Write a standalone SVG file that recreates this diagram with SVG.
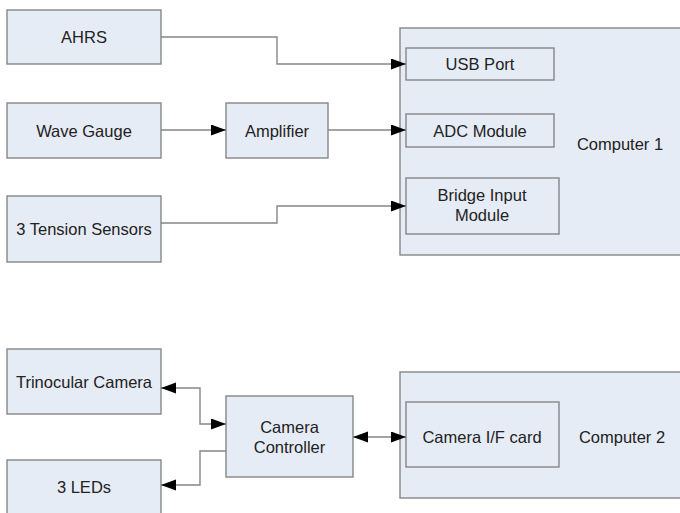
<svg xmlns="http://www.w3.org/2000/svg" width="680" height="513" viewBox="0 0 680 513">
  <style>
    .box { fill: #e6ecf6; stroke: #868686; stroke-width: 1.4; }
    .inner { fill: #e6ecf6; stroke: #868686; stroke-width: 1.4; }
    .lbl { font-family: "Liberation Sans", Arial, sans-serif; font-size: 16.5px; fill: #222; text-anchor: middle; }
    .wire { fill: none; stroke: #868686; stroke-width: 1.4; }
  </style>
  <defs>
    <marker id="head" markerUnits="userSpaceOnUse" markerWidth="16" markerHeight="12" refX="15" refY="5.5" orient="auto-start-reverse">
      <path d="M0,0 L15,5.5 L0,11 z" fill="#000"/>
    </marker>
  </defs>

  <rect width="680" height="513" fill="#fff"/>

  <!-- Computer 1 with its input modules -->
  <g id="computer1">
    <rect class="box" x="400" y="28" width="285" height="227"/>
    <text class="lbl" x="620" y="150">Computer 1</text>
  </g>
  <g id="usb-port">
    <rect class="inner" x="406" y="48" width="148" height="32"/>
    <text class="lbl" x="480" y="70">USB Port</text>
  </g>
  <g id="adc-module">
    <rect class="inner" x="406" y="114" width="148" height="33"/>
    <text class="lbl" x="480" y="136.5">ADC Module</text>
  </g>
  <g id="bridge-input">
    <rect class="inner" x="406" y="178" width="153" height="56"/>
    <text class="lbl" x="482" y="201">Bridge Input</text>
    <text class="lbl" x="482" y="221">Module</text>
  </g>

  <!-- Sensors -->
  <g id="ahrs">
    <rect class="box" x="7" y="10" width="154" height="54"/>
    <text class="lbl" x="84" y="43">AHRS</text>
  </g>
  <g id="wave-gauge">
    <rect class="box" x="7" y="103" width="154" height="55"/>
    <text class="lbl" x="84" y="136.5">Wave Gauge</text>
  </g>
  <g id="amplifier">
    <rect class="box" x="226" y="103" width="102" height="55"/>
    <text class="lbl" x="277" y="136.5">Amplifier</text>
  </g>
  <g id="tension-sensors">
    <rect class="box" x="7" y="196" width="154" height="66"/>
    <text class="lbl" x="84" y="234.5">3 Tension Sensors</text>
  </g>

  <!-- Camera system -->
  <g id="trinocular-camera">
    <rect class="box" x="7" y="349" width="154" height="65"/>
    <text class="lbl" x="84" y="387.5">Trinocular Camera</text>
  </g>
  <g id="leds">
    <rect class="box" x="7" y="460" width="154" height="60"/>
    <text class="lbl" x="84" y="492.5">3 LEDs</text>
  </g>
  <g id="camera-controller">
    <rect class="box" x="226" y="396" width="127" height="81"/>
    <text class="lbl" x="289.5" y="432.5">Camera</text>
    <text class="lbl" x="289.5" y="452.5">Controller</text>
  </g>
  <g id="computer2">
    <rect class="box" x="400" y="372" width="285" height="126"/>
    <text class="lbl" x="622" y="443">Computer 2</text>
  </g>
  <g id="camera-if-card">
    <rect class="inner" x="406" y="402" width="153" height="65"/>
    <text class="lbl" x="482" y="443">Camera I/F card</text>
  </g>

  <!-- Connectors -->
  <g id="connectors">
    <polyline class="wire" points="161,37 277,37 277,64 406,64" marker-end="url(#head)"/>
    <line class="wire" x1="161" y1="130" x2="226" y2="130" marker-end="url(#head)"/>
    <line class="wire" x1="328" y1="130" x2="406" y2="130" marker-end="url(#head)"/>
    <polyline class="wire" points="161,223 277,223 277,206 406,206" marker-end="url(#head)"/>
    <polyline class="wire" points="161,388 200,388 200,424 226,424" marker-start="url(#head)" marker-end="url(#head)"/>
    <polyline class="wire" points="226,451 200,451 200,485 161,485" marker-end="url(#head)"/>
    <line class="wire" x1="353" y1="437" x2="406" y2="437" marker-start="url(#head)" marker-end="url(#head)"/>
  </g>
</svg>
